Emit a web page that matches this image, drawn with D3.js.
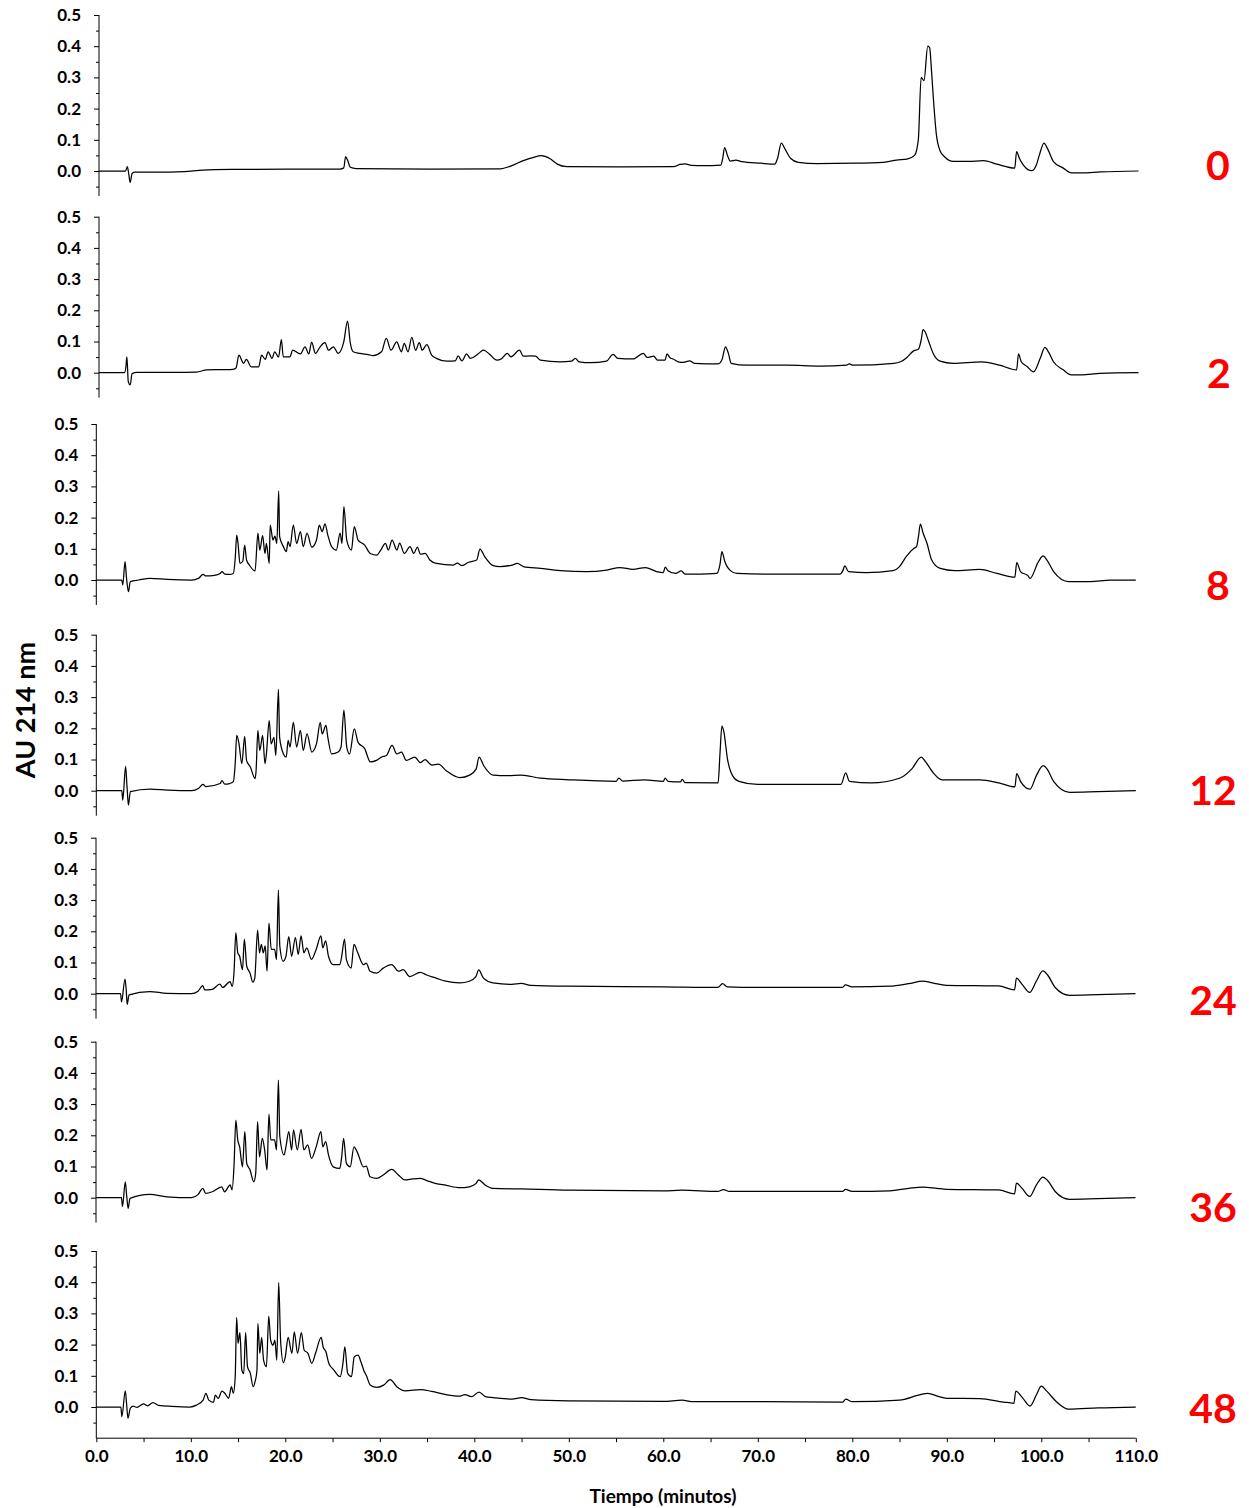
<!DOCTYPE html>
<html><head><meta charset="utf-8">
<script src="https://cdn.jsdelivr.net/npm/d3@7"></script>
<style>
body{margin:0;background:#fff}
svg{display:block}
</style>
</head><body>
<svg id="chart" width="1249" height="1508"></svg>
<script>
// ---------- DATA ----------
const sampleLabels = ["0","2","8","12","24","36","48"];

// each trace: [time (min), absorbance (AU)]
const trace_0h = [[0,0],[2.8,0],[3.0,0.014],[3.15,-0.01],[3.3,-0.037],[3.5,-0.008],[3.8,-0.004],[6,-0.004],[9,-0.002],[11,0.003],[14,0.005],[20,0.006],[25.5,0.006],[25.9,0.01],[26.1,0.046],[26.3,0.035],[26.6,0.012],[27.2,0.008],[35,0.006],[42.5,0.007],[43.5,0.015],[44.9,0.033],[46.0,0.044],[46.8,0.049],[47.7,0.04],[48.5,0.022],[49.5,0.014],[55,0.013],[60.8,0.014],[61.5,0.021],[62,0.023],[62.7,0.018],[64,0.017],[65.8,0.019],[66.0,0.04],[66.2,0.075],[66.5,0.05],[66.8,0.032],[67.4,0.035],[68,0.03],[70,0.025],[71.5,0.022],[71.8,0.04],[72.2,0.089],[72.6,0.07],[73.2,0.04],[74,0.028],[76,0.024],[80,0.025],[83,0.028],[84.4,0.035],[85.5,0.038],[86.3,0.05],[86.7,0.1],[87.0,0.3],[87.3,0.29],[87.7,0.40],[87.9,0.395],[88.1,0.32],[88.3,0.23],[88.6,0.12],[89.0,0.065],[89.5,0.045],[90.4,0.031],[92,0.031],[93.6,0.033],[95,0.022],[96.9,0.009],[97.1,0.062],[97.4,0.04],[97.8,0.02],[98.7,0.001],[99.2,0.02],[99.5,0.05],[100.0,0.089],[100.4,0.07],[101,0.03],[102,0.01],[102.9,-0.006],[104,-0.006],[106,-0.003],[110,0]];

const trace_2h = [[0,0],[2.7,0],[2.85,0.02],[2.95,0.051],[3.1,-0.029],[3.3,-0.039],[3.5,-0.003],[4,0.001],[8,0.001],[10.3,0.002],[11.4,0.009],[13,0.01],[14.2,0.011],[14.5,0.015],[14.8,0.056],[15.3,0.03],[15.6,0.043],[16.1,0.019],[16.9,0.019],[17.2,0.056],[17.6,0.043],[17.9,0.067],[18.3,0.046],[18.6,0.067],[19.0,0.05],[19.3,0.106],[19.5,0.051],[20.2,0.051],[20.5,0.072],[21.3,0.06],[21.8,0.083],[22.2,0.06],[22.5,0.098],[22.9,0.062],[23.4,0.083],[23.9,0.096],[24.3,0.072],[24.8,0.083],[25.3,0.062],[25.9,0.099],[26.3,0.165],[26.6,0.094],[26.9,0.067],[27.6,0.062],[28.5,0.058],[29.0,0.055],[29.9,0.067],[30.4,0.11],[30.9,0.072],[31.5,0.099],[32.0,0.067],[32.3,0.094],[32.7,0.067],[33.1,0.113],[33.5,0.072],[33.9,0.096],[34.2,0.072],[34.7,0.09],[35.2,0.056],[35.7,0.046],[36.8,0.037],[37.7,0.038],[38.0,0.054],[38.4,0.038],[38.9,0.06],[39.3,0.046],[40.1,0.06],[40.7,0.072],[41.3,0.06],[42.1,0.04],[42.6,0.045],[43.2,0.062],[43.6,0.051],[44.5,0.072],[44.9,0.053],[45.6,0.054],[46.2,0.053],[46.7,0.04],[48.8,0.035],[50.0,0.037],[50.4,0.046],[50.8,0.035],[52.0,0.032],[53.7,0.037],[54.4,0.059],[54.9,0.046],[56.5,0.044],[57.6,0.062],[58.0,0.049],[58.7,0.053],[59.1,0.04],[59.9,0.04],[60.1,0.06],[60.4,0.049],[60.8,0.043],[61.3,0.035],[61.8,0.033],[62.5,0.038],[63,0.03],[65.5,0.028],[65.9,0.04],[66.3,0.083],[66.6,0.062],[66.9,0.03],[68.5,0.024],[72.8,0.024],[76.3,0.021],[79.1,0.024],[79.4,0.028],[79.8,0.024],[84.1,0.03],[84.8,0.035],[85.5,0.049],[86.2,0.07],[86.7,0.075],[87.0,0.104],[87.2,0.138],[87.4,0.132],[87.8,0.1],[88.3,0.06],[89.0,0.037],[90.4,0.03],[93.4,0.035],[95.3,0.024],[97.1,0.009],[97.3,0.06],[97.6,0.035],[98.2,0.02],[98.9,0.003],[99.6,0.046],[100.1,0.081],[100.5,0.065],[101.0,0.035],[102.0,0.01],[102.9,-0.007],[104,-0.007],[105.9,-0.002],[110,0]];

const trace_8h = [[0,0],[2.7,0],[2.8,-0.016],[3.04,0.059],[3.2,0.005],[3.4,-0.037],[3.6,-0.005],[4.5,0],[5.7,0.005],[7.5,0.002],[10.1,0],[10.8,0.005],[11.3,0.018],[11.6,0.013],[12.5,0.015],[13.1,0.021],[13.3,0.027],[13.6,0.019],[14.1,0.018],[14.5,0.021],[14.7,0.069],[14.86,0.144],[15.0,0.117],[15.2,0.053],[15.5,0.06],[15.7,0.112],[15.9,0.064],[16.2,0.048],[16.8,0.029],[17.1,0.15],[17.3,0.096],[17.6,0.142],[17.85,0.085],[18.0,0.117],[18.3,0.053],[18.4,0.176],[18.7,0.128],[18.9,0.141],[19.1,0.117],[19.3,0.285],[19.4,0.139],[19.8,0.107],[20.1,0.091],[20.3,0.123],[20.5,0.107],[20.85,0.176],[21.2,0.117],[21.6,0.155],[21.9,0.107],[22.3,0.15],[22.8,0.105],[23.3,0.128],[23.6,0.176],[23.9,0.155],[24.2,0.18],[24.5,0.144],[24.9,0.107],[25.4,0.096],[25.8,0.15],[26.0,0.117],[26.2,0.235],[26.5,0.128],[27.0,0.096],[27.3,0.171],[27.7,0.128],[28.4,0.112],[29.0,0.085],[29.7,0.08],[30.1,0.096],[30.6,0.117],[30.9,0.096],[31.3,0.128],[31.8,0.096],[32.1,0.118],[32.6,0.085],[33.2,0.107],[33.6,0.085],[33.97,0.105],[34.3,0.083],[34.8,0.085],[35.3,0.064],[36.0,0.053],[37.8,0.048],[38.2,0.054],[38.7,0.046],[39.4,0.057],[40.25,0.064],[40.6,0.099],[41.1,0.075],[42.0,0.046],[42.7,0.043],[44.0,0.048],[44.55,0.053],[45.2,0.043],[47.0,0.037],[49.1,0.03],[51.9,0.027],[54.0,0.032],[55.4,0.04],[56.8,0.034],[58.1,0.04],[59.3,0.027],[60.0,0.024],[60.2,0.041],[60.5,0.03],[61.3,0.021],[61.9,0.029],[62.3,0.019],[63.9,0.019],[65.65,0.021],[66.0,0.05],[66.2,0.091],[66.5,0.06],[67.1,0.03],[67.8,0.021],[70.9,0.019],[76.6,0.019],[78.7,0.019],[79.0,0.03],[79.2,0.045],[79.6,0.027],[81.5,0.024],[84.3,0.03],[85.0,0.043],[85.7,0.075],[86.5,0.101],[86.8,0.107],[87.0,0.139],[87.2,0.179],[87.5,0.15],[87.9,0.118],[88.4,0.064],[89.3,0.037],[90.8,0.03],[93.5,0.034],[95.3,0.021],[97.2,0.009],[97.4,0.056],[97.8,0.027],[98.6,0.013],[98.8,0.005],[99.7,0.059],[100.2,0.077],[100.6,0.064],[101.3,0.027],[102.9,-0.005],[105.2,-0.005],[107.3,0],[110,0]];

const trace_12h = [[0,0],[2.7,0],[2.8,-0.03],[3.1,0.078],[3.25,0.013],[3.4,-0.046],[3.6,-0.003],[5.7,0.005],[7.5,0.002],[10.1,0],[10.8,0.007],[11.3,0.02],[11.6,0.013],[13.1,0.023],[13.3,0.032],[13.6,0.021],[14.1,0.023],[14.5,0.029],[14.7,0.087],[14.86,0.177],[15.1,0.15],[15.4,0.087],[15.7,0.174],[15.9,0.097],[16.3,0.076],[16.8,0.039],[16.9,0.06],[17.1,0.193],[17.3,0.129],[17.6,0.177],[17.85,0.087],[18.0,0.118],[18.3,0.225],[18.5,0.15],[18.8,0.171],[19.0,0.113],[19.27,0.325],[19.4,0.17],[19.8,0.118],[20.1,0.108],[20.3,0.161],[20.5,0.14],[20.85,0.219],[21.2,0.14],[21.6,0.193],[21.9,0.129],[22.3,0.182],[22.8,0.124],[23.3,0.15],[23.7,0.219],[23.9,0.182],[24.3,0.209],[24.5,0.171],[24.9,0.118],[25.6,0.124],[25.9,0.14],[26.2,0.258],[26.5,0.14],[26.8,0.118],[27.3,0.198],[27.7,0.155],[28.4,0.135],[29.0,0.092],[29.7,0.098],[30.2,0.108],[30.7,0.113],[31.3,0.145],[31.8,0.118],[32.3,0.124],[32.8,0.097],[33.7,0.108],[34.3,0.09],[34.8,0.1],[35.5,0.082],[36.2,0.085],[37.0,0.065],[38.5,0.042],[39.5,0.05],[40.2,0.07],[40.5,0.108],[41.0,0.08],[42.0,0.05],[43.5,0.048],[45.0,0.05],[47.0,0.04],[50.0,0.035],[55.0,0.03],[55.3,0.04],[55.7,0.031],[58.0,0.035],[60.0,0.03],[60.2,0.04],[60.5,0.03],[61.8,0.028],[62.0,0.036],[62.3,0.026],[65.8,0.025],[66.0,0.12],[66.2,0.207],[66.4,0.19],[66.8,0.1],[67.3,0.05],[68.0,0.03],[70.0,0.02],[78.8,0.02],[79.3,0.057],[79.7,0.03],[82.0,0.025],[85.0,0.04],[86.3,0.07],[87.3,0.108],[87.7,0.095],[88.5,0.06],[89.5,0.035],[93.5,0.035],[95.5,0.025],[97.2,0.012],[97.4,0.055],[97.8,0.03],[98.8,0.005],[99.5,0.05],[100.2,0.08],[100.6,0.07],[101.3,0.03],[103,-0.005],[106,-0.003],[110,0]];

const trace_24h = [[0,0],[2.6,0],[2.7,-0.026],[3.07,0.047],[3.2,0.012],[3.3,-0.034],[3.5,-0.004],[5.7,0.007],[7.5,0.001],[10.1,0],[10.8,0.008],[11.3,0.026],[11.5,0.012],[12.3,0.014],[13.1,0.031],[13.4,0.02],[14.2,0.039],[14.4,0.023],[14.6,0.066],[14.8,0.196],[15.0,0.131],[15.2,0.12],[15.5,0.077],[15.7,0.175],[15.95,0.088],[16.3,0.066],[16.6,0.037],[16.8,0.05],[17.1,0.204],[17.3,0.131],[17.5,0.158],[17.7,0.131],[17.9,0.153],[18.1,0.072],[18.3,0.226],[18.55,0.142],[18.9,0.142],[19.1,0.109],[19.3,0.332],[19.45,0.153],[19.8,0.104],[20.1,0.12],[20.4,0.183],[20.7,0.12],[21.1,0.18],[21.4,0.126],[21.7,0.185],[22.0,0.131],[22.3,0.147],[22.8,0.11],[23.3,0.142],[23.8,0.185],[24.0,0.147],[24.3,0.169],[24.6,0.12],[25.1,0.093],[25.8,0.093],[26.0,0.12],[26.3,0.175],[26.5,0.109],[27.0,0.082],[27.3,0.158],[27.7,0.131],[28.3,0.093],[28.6,0.098],[29.0,0.072],[29.7,0.066],[30.4,0.082],[31.3,0.093],[32.0,0.072],[32.5,0.077],[33.2,0.055],[34.3,0.068],[35.0,0.06],[36.0,0.05],[37.0,0.04],[38.5,0.035],[39.5,0.04],[40.2,0.055],[40.5,0.076],[41.0,0.05],[42.0,0.035],[44.0,0.03],[45.0,0.033],[46.0,0.027],[50.0,0.024],[60.0,0.022],[65.8,0.02],[66.3,0.032],[66.8,0.022],[70.0,0.02],[79.0,0.02],[79.3,0.028],[80.0,0.022],[84.0,0.024],[86.0,0.032],[87.5,0.04],[88.5,0.035],[90.0,0.027],[95.5,0.025],[97.2,0.012],[97.4,0.05],[98.0,0.03],[98.8,0.004],[99.5,0.04],[100.2,0.073],[100.7,0.06],[101.5,0.02],[103,-0.005],[106,-0.003],[110,0]];

const trace_36h = [[0,0],[2.7,0],[2.8,-0.029],[3.1,0.051],[3.25,0.005],[3.4,-0.034],[3.6,-0.002],[5.7,0.011],[7.5,0.003],[10.1,0],[10.8,0.01],[11.3,0.03],[11.6,0.014],[12.3,0.019],[13.3,0.035],[13.6,0.019],[14.2,0.041],[14.4,0.025],[14.6,0.099],[14.8,0.249],[15.0,0.185],[15.2,0.163],[15.5,0.099],[15.75,0.212],[15.95,0.11],[16.3,0.089],[16.7,0.051],[16.9,0.078],[17.1,0.244],[17.3,0.131],[17.6,0.19],[17.85,0.152],[18.1,0.089],[18.3,0.268],[18.5,0.185],[18.9,0.185],[19.1,0.153],[19.3,0.377],[19.45,0.196],[19.9,0.137],[20.1,0.163],[20.4,0.212],[20.7,0.153],[20.9,0.217],[21.3,0.153],[21.7,0.219],[22.0,0.153],[22.4,0.169],[22.8,0.126],[23.3,0.163],[23.8,0.212],[24.0,0.163],[24.3,0.18],[24.6,0.137],[25.1,0.099],[25.8,0.094],[26.0,0.131],[26.2,0.19],[26.5,0.11],[26.9,0.099],[27.3,0.163],[27.7,0.142],[28.3,0.099],[28.6,0.101],[29.0,0.067],[29.7,0.062],[30.4,0.073],[31.3,0.091],[32.0,0.073],[32.7,0.057],[33.5,0.06],[34.3,0.062],[35.0,0.055],[36.0,0.045],[37.0,0.04],[38.5,0.032],[39.5,0.035],[40.2,0.045],[40.5,0.057],[41.2,0.04],[42.0,0.03],[45.0,0.028],[50.0,0.024],[60.0,0.022],[62.0,0.024],[65.8,0.02],[66.4,0.026],[67.0,0.02],[79.0,0.02],[79.3,0.027],[80.0,0.02],[84.0,0.022],[86.0,0.03],[87.5,0.034],[89.0,0.03],[90.0,0.027],[95.5,0.025],[97.2,0.012],[97.4,0.047],[98.0,0.03],[98.8,0.004],[99.5,0.04],[100.2,0.066],[100.7,0.055],[101.5,0.02],[103,-0.005],[106,-0.003],[110,0]];

const trace_48h = [[0,0],[2.6,0],[2.7,-0.031],[3.07,0.052],[3.2,0.012],[3.35,-0.036],[3.6,-0.004],[3.9,0.003],[4.3,-0.001],[5.0,0.01],[5.4,0.004],[6.0,0.014],[6.6,0.005],[8,0.002],[9.9,0],[10.6,0.006],[11.3,0.022],[11.6,0.044],[11.9,0.022],[12.4,0.015],[12.6,0.038],[12.9,0.028],[13.3,0.051],[13.6,0.044],[14.0,0.028],[14.3,0.065],[14.5,0.044],[14.7,0.097],[14.85,0.287],[15.0,0.204],[15.2,0.238],[15.4,0.118],[15.6,0.107],[15.8,0.238],[16.0,0.129],[16.3,0.108],[16.6,0.065],[16.8,0.081],[17.0,0.118],[17.1,0.268],[17.3,0.172],[17.5,0.223],[17.7,0.15],[18.0,0.129],[18.25,0.291],[18.45,0.214],[18.7,0.198],[18.9,0.214],[19.1,0.15],[19.3,0.399],[19.5,0.214],[19.8,0.142],[20.0,0.161],[20.3,0.223],[20.7,0.172],[20.95,0.241],[21.3,0.172],[21.7,0.238],[22.0,0.182],[22.4,0.172],[22.8,0.14],[23.2,0.172],[23.8,0.223],[24.0,0.193],[24.3,0.177],[24.6,0.14],[25.1,0.12],[25.8,0.097],[26.1,0.14],[26.3,0.193],[26.6,0.108],[27.0,0.097],[27.3,0.161],[27.7,0.166],[28.0,0.145],[28.3,0.118],[28.6,0.099],[29.0,0.07],[29.7,0.063],[30.4,0.07],[31.1,0.088],[31.8,0.065],[32.7,0.052],[34.3,0.056],[35.5,0.05],[37.0,0.04],[38.5,0.035],[39.0,0.04],[39.7,0.033],[40.5,0.048],[41.2,0.033],[42.0,0.03],[44.0,0.025],[45.0,0.03],[46.0,0.024],[50.0,0.02],[60.0,0.018],[62.0,0.022],[63.0,0.017],[70.0,0.017],[79.0,0.016],[79.3,0.025],[80.0,0.017],[85.0,0.022],[87.0,0.038],[88.0,0.044],[89.0,0.035],[90.0,0.028],[93.5,0.027],[96.0,0.016],[97.1,0.012],[97.3,0.051],[98.0,0.03],[98.8,0.003],[99.5,0.04],[100.0,0.067],[100.6,0.05],[101.6,0.017],[102.9,-0.007],[106,-0.003],[110,0]];

const traces = [trace_0h, trace_2h, trace_8h, trace_12h, trace_24h, trace_36h, trace_48h];

const yTickValues = [0, 0.1, 0.2, 0.3, 0.4, 0.5];
const yMinorTickValues = [-0.05, 0.05, 0.15, 0.25, 0.35, 0.45];
const xTickValues = [0, 10, 20, 30, 40, 50, 60, 70, 80, 90, 100, 110];
const xMinorTickValues = [5, 15, 25, 35, 45, 55, 65, 75, 85, 95, 105];
const yAxisTitle = "AU 214 nm";
const xAxisTitle = "Tiempo (minutos)";

// ---------- LAYOUT ----------
const panelZeroY = [171, 372.7, 580, 790.7, 993.7, 1197.7, 1407];
const panelLeftX = [99, 99, 96.3, 96.3, 96, 96, 96.3];
const labelBaseline = [9, 15, 20, 14, 21, 24, 16];
const labelCenterX = [1218, 1219, 1218, 1213, 1213, 1213, 1213];
const plotWidth = 1039.5;
const pxPerUnit = 312;
const FONT = "Lato, 'Open Sans', 'Liberation Sans', sans-serif";

const svg = d3.select("#chart");
const fmt = d3.format(".1f");

traces.forEach((data, i) => {
  const left = panelLeftX[i], y0 = panelZeroY[i];
  const last = i === traces.length - 1;
  const x = d3.scaleLinear().domain([0, 110]).range([left, left + plotWidth]);
  const y = d3.scaleLinear().domain([-0.1, 0.5]).range([y0 + 0.1 * pxPerUnit, y0 - 0.5 * pxPerUnit]);
  const g = svg.append("g");

  // y axis
  const ya = g.append("g").attr("transform", `translate(${left},0)`)
    .call(d3.axisLeft(y).tickValues(yTickValues).tickFormat(fmt).tickSize(5).tickPadding(13));
  ya.select(".domain").remove();
  ya.selectAll("text").attr("font-family", FONT).attr("font-weight", 700).attr("font-size", 17).attr("fill", "#000");
  ya.selectAll("line").attr("stroke", "#000");
  const ym = g.append("g").attr("transform", `translate(${left},0)`)
    .call(d3.axisLeft(y).tickValues(yMinorTickValues).tickFormat("").tickSize(3));
  ym.select(".domain").remove();
  ym.selectAll("line").attr("stroke", "#000");
  g.append("line").attr("x1", left).attr("x2", left)
    .attr("y1", y(0.5)).attr("y2", y(last ? -0.1 : -0.08))
    .attr("stroke", "#000").attr("stroke-width", 1);

  // trace
  g.append("path").datum(data)
    .attr("fill", "none").attr("stroke", "#000").attr("stroke-width", 1.25)
    .attr("stroke-linejoin", "round")
    .attr("d", d3.line().x(d => x(d[0])).y(d => y(d[1])).curve(d3.curveMonotoneX));

  // sample label
  g.append("text").attr("x", labelCenterX[i]).attr("y", y0 + labelBaseline[i])
    .attr("text-anchor", "middle").attr("fill", "#FF0000")
    .attr("font-family", FONT).attr("font-weight", 700).attr("font-size", 41)
    .text(sampleLabels[i]);

  if (last) {
    const base = y(-0.1);
    const xa = g.append("g").attr("transform", `translate(0,${base})`)
      .call(d3.axisBottom(x).tickValues(xTickValues).tickFormat(fmt).tickSize(4).tickPadding(8));
    xa.select(".domain").remove();
    xa.selectAll("text").attr("font-family", FONT).attr("font-weight", 700).attr("font-size", 17).attr("fill", "#000");
    xa.selectAll("line").attr("stroke", "#000");
    const xm = g.append("g").attr("transform", `translate(0,${base})`)
      .call(d3.axisBottom(x).tickValues(xMinorTickValues).tickFormat("").tickSize(4));
    xm.select(".domain").remove();
    xm.selectAll("line").attr("stroke", "#000");
    g.append("line").attr("x1", x(0)).attr("x2", x(110)).attr("y1", base).attr("y2", base)
      .attr("stroke", "#000");
  }
});

svg.append("text")
  .attr("transform", "translate(35,710) rotate(-90)")
  .attr("text-anchor", "middle").attr("font-family", FONT).attr("font-weight", 700)
  .attr("font-size", 27).attr("fill", "#000").text(yAxisTitle);

svg.append("text")
  .attr("x", 663).attr("y", 1503)
  .attr("text-anchor", "middle").attr("font-family", FONT).attr("font-weight", 700)
  .attr("font-size", 19).attr("fill", "#000").text(xAxisTitle);
</script>
</body></html>
